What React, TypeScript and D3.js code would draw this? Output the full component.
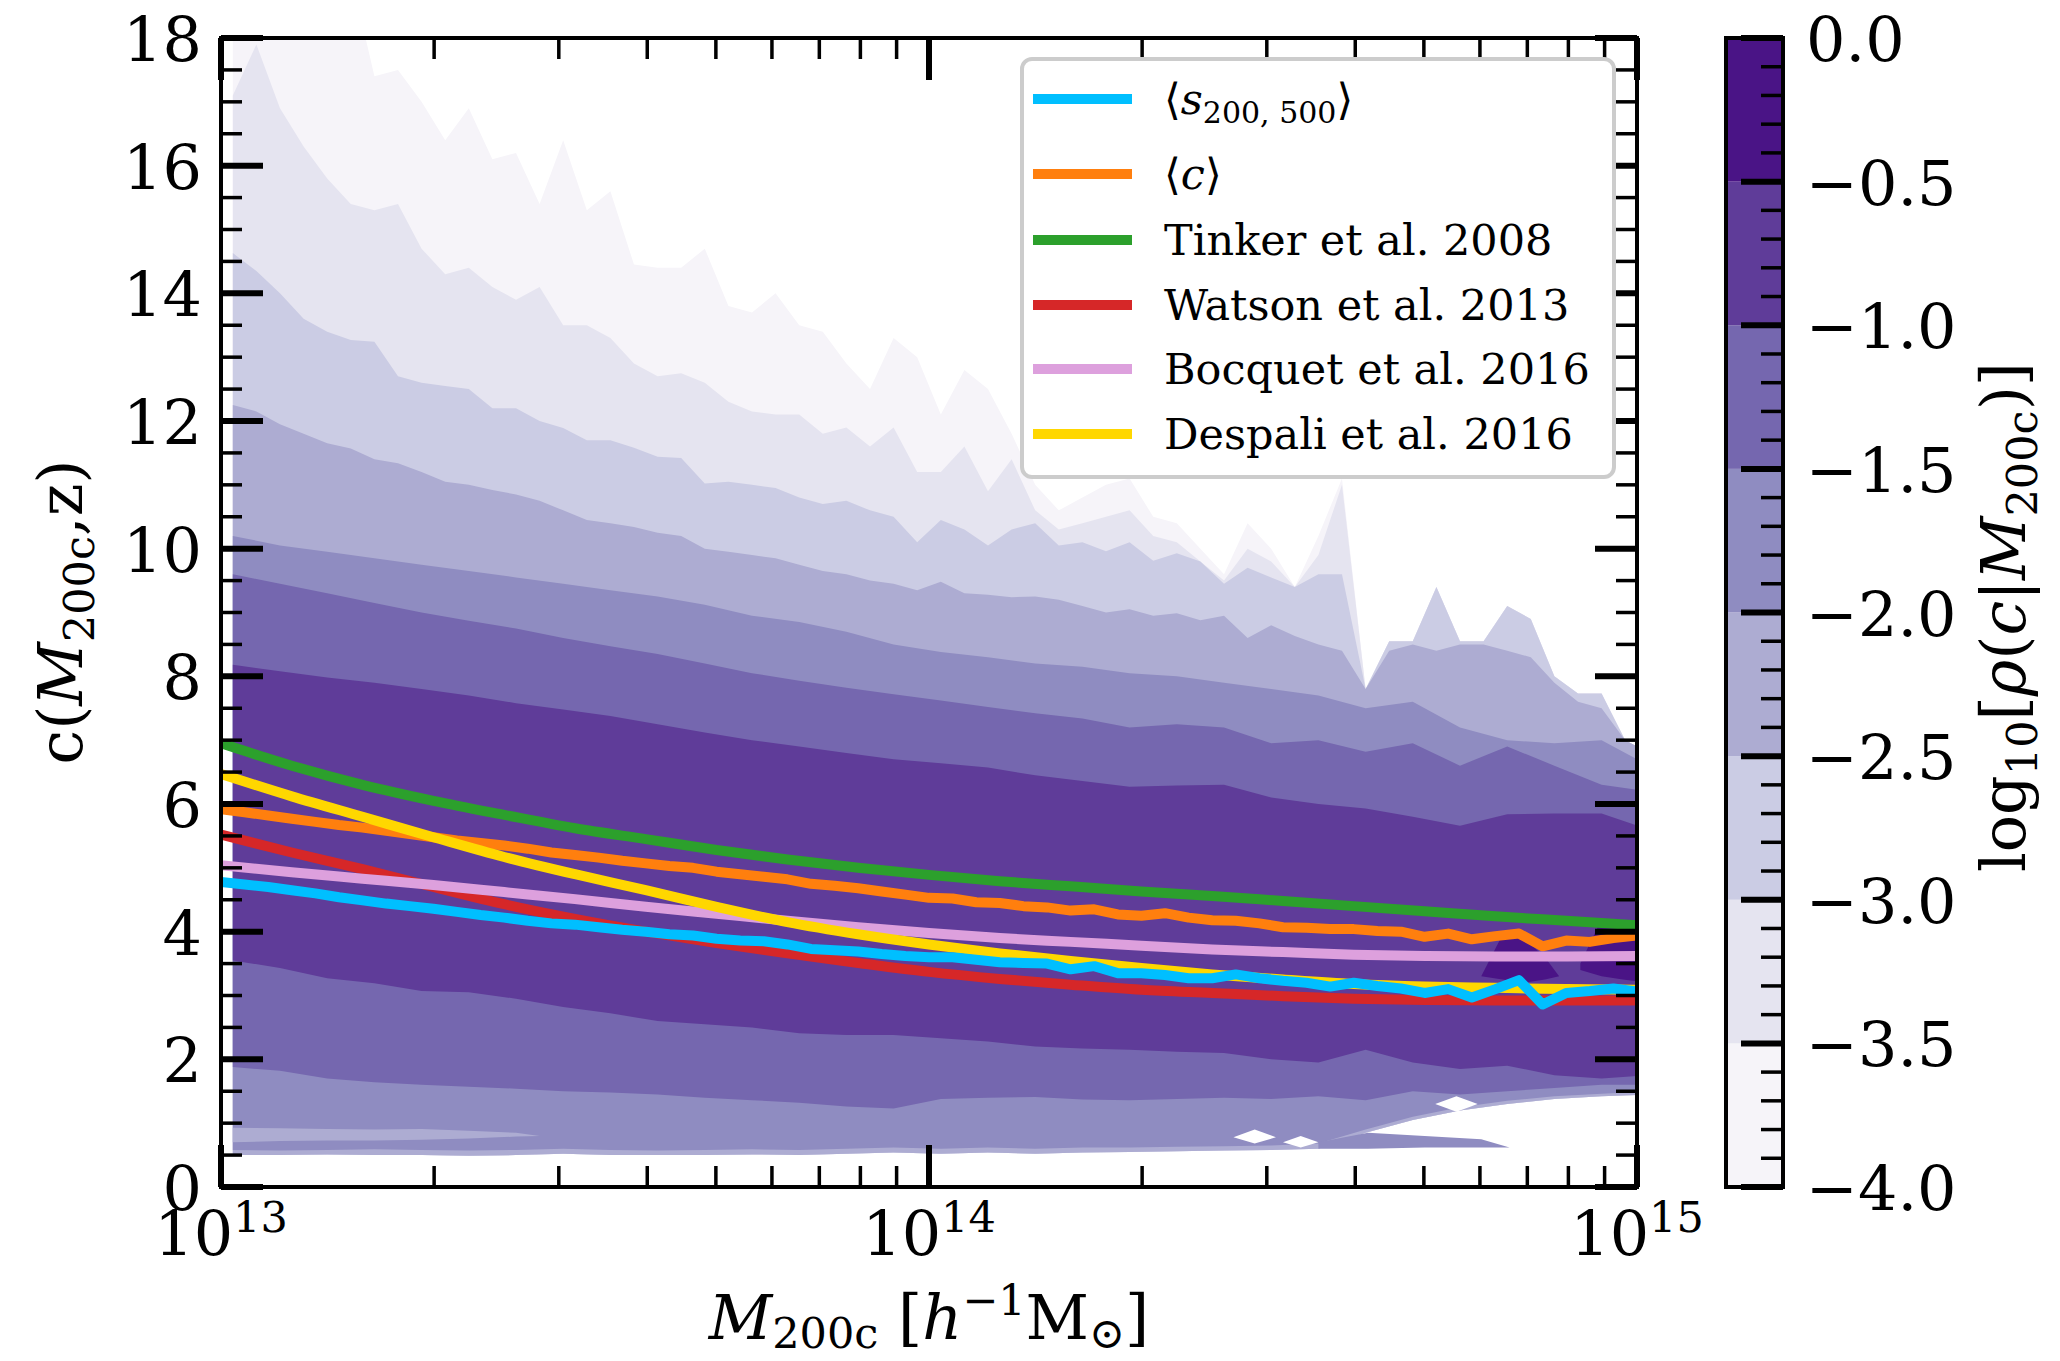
import React from "react";
import * as d3 from "d3";

const WIDTH = 2060;
const HEIGHT = 1361;
const plotBox = { left: 221, right: 1637, top: 38, bottom: 1187 };
const cbarBox = { left: 1726, right: 1783, top: 38, bottom: 1187 };
const FONT = "'DejaVu Serif', 'Liberation Serif', serif";

// log10 density levels of the filled contours
const densityLevels = [-4.0, -3.5, -3.0, -2.5, -2.0, -1.5, -1.0, -0.5, 0.0];
// ColorBrewer Purples anchors
const purplesAnchors = ["#fcfbfd", "#efedf5", "#dadaeb", "#bcbddc", "#9e9ac8", "#807dba", "#6a51a3", "#54278f", "#3f007d"];

// log10 M200c of the density bins (fine and coarse sampling)
const contourMassFine = [
  13.0167, 13.05, 13.0833, 13.1167, 13.15, 13.1833, 13.2167, 13.25, 13.2833, 13.3167,
  13.35, 13.3833, 13.4167, 13.45, 13.4833, 13.5167, 13.55, 13.5833, 13.6167, 13.65,
  13.6833, 13.7167, 13.75, 13.7833, 13.8167, 13.85, 13.8833, 13.9167, 13.95, 13.9833,
  14.0167, 14.05, 14.0833, 14.1167, 14.15, 14.1833, 14.2167, 14.25, 14.2833, 14.3167,
  14.35, 14.3833, 14.4167, 14.45, 14.4833, 14.5167, 14.55, 14.5833, 14.6167, 14.65,
  14.6833, 14.7167, 14.75, 14.7833, 14.8167, 14.85, 14.8833, 14.9167, 14.95, 14.9833,
  15.0167,
];
const contourMassCoarse = [
  13.0167, 13.0833, 13.15, 13.2167, 13.2833, 13.35, 13.4167, 13.4833, 13.55, 13.6167,
  13.6833, 13.75, 13.8167, 13.8833, 13.95, 14.0167, 14.0833, 14.15, 14.2167, 14.2833,
  14.35, 14.4167, 14.4833, 14.55, 14.6167, 14.6833, 14.75, 14.8167, 14.8833, 14.95,
  15.0167,
];

// upper edge (in c) of the region with log10 rho >= level, on the fine mass grid
const upperLevel0 = [
  19, 19, 19, 19, 19, 19, 17.4, 17.5, 17.0, 16.4, 16.9, 16.1, 16.2, 15.4, 16.4, 15.3, 15.6, 14.45, 14.4, 14.4,
  14.7, 13.8, 13.7, 14.0, 13.5, 13.4, 12.9, 12.5, 13.3, 13.0, 12.1, 12.8, 12.5, 11.8, 11.0, 10.6, 10.8, 11.0, 11.1, 10.5,
  10.4, 10.0, 9.6, 10.4, 10.0, 9.4, 10.2, 11.1, 7.8, 8.55, 8.55, 9.4, 8.55, 8.55, 9.1, 8.9, 8.0, 7.73, 7.73, 7.0,
  6.8,
];
const upperLevel1 = [
  17.1, 17.9, 16.9, 16.3, 15.8, 15.4, 15.3, 15.4, 14.7, 14.3, 14.4, 14.1, 13.9, 14.1, 13.5, 13.5, 13.3, 12.9, 12.7, 12.75,
  12.6, 12.3, 12.15, 12.1, 12.1, 11.8, 11.9, 11.6, 11.9, 11.2, 11.2, 11.6, 10.9, 11.4, 10.6, 10.3, 10.4, 10.5, 10.6, 10.2,
  10.1, 9.8, 9.5, 10.0, 9.8, 9.4, 9.9, 11.0, 7.8, 8.55, 8.55, 9.4, 8.55, 8.55, 9.1, 8.9, 8.0, 7.73, 7.73, 7.0,
  6.8,
];
const upperLevel2 = [
  14.63, 14.35, 14.0, 13.6, 13.4, 13.27, 13.24, 12.7, 12.6, 12.55, 12.5, 12.2, 12.2, 12.0, 11.89, 11.7, 11.7, 11.58, 11.44, 11.42,
  11.02, 11.05, 11.0, 10.95, 10.8, 10.7, 10.75, 10.6, 10.5, 10.1, 10.45, 10.3, 10.05, 10.3, 10.4, 10.05, 10.1, 9.96, 10.1, 9.81,
  9.93, 9.8, 9.45, 9.7, 9.55, 9.4, 9.6, 9.6, 7.8, 8.55, 8.55, 9.4, 8.55, 8.55, 9.1, 8.9, 8.0, 7.73, 7.73, 7.0,
  6.8,
];
const upperLevel3 = [
  12.25, 12.15, 11.95, 11.8, 11.65, 11.57, 11.4, 11.34, 11.2, 11.05, 11.0, 10.92, 10.85, 10.75, 10.6, 10.45, 10.4, 10.34, 10.25, 10.2,
  10.0, 9.95, 9.9, 9.85, 9.75, 9.65, 9.6, 9.5, 9.45, 9.35, 9.48, 9.3, 9.28, 9.24, 9.25, 9.2, 9.1, 9.0, 9.05, 8.95,
  8.99, 8.88, 8.95, 8.6, 8.8, 8.63, 8.5, 8.4, 7.8, 8.4, 8.5, 8.4, 8.5, 8.5, 8.4, 8.3, 7.9, 7.6, 7.5, 7.0,
  6.8,
];
// inner edges on the coarse mass grid
const upperLevel4 = [
  10.2, 10.05, 9.95, 9.85, 9.75, 9.65, 9.55, 9.45, 9.35, 9.25, 9.12, 8.95, 8.85, 8.7, 8.5, 8.38, 8.3, 8.2, 8.15, 8.05,
  8.0, 7.9, 7.8, 7.7, 7.5, 7.6, 7.2, 7.0, 6.95, 7.0, 6.6,
];
const upperLevel5 = [
  9.6, 9.45, 9.3, 9.15, 9.0, 8.87, 8.75, 8.6, 8.47, 8.35, 8.2, 8.05, 7.93, 7.82, 7.72, 7.62, 7.52, 7.42, 7.34, 7.2,
  7.25, 7.2, 6.95, 7.0, 6.82, 6.95, 6.6, 6.9, 6.6, 6.3, 6.2,
];
const upperLevel6 = [
  8.18, 8.08, 7.98, 7.9, 7.8, 7.7, 7.58, 7.48, 7.38, 7.25, 7.12, 7.0, 6.9, 6.8, 6.7, 6.64, 6.57, 6.45, 6.36, 6.27,
  6.29, 6.3, 6.1, 6.0, 5.93, 5.8, 5.66, 5.84, 5.85, 5.85, 5.6,
];
const lowerLevel6 = [
  3.55, 3.43, 3.27, 3.19, 3.07, 3.05, 2.95, 2.82, 2.72, 2.6, 2.55, 2.5, 2.41, 2.38, 2.38, 2.33, 2.28, 2.2, 2.17, 2.15,
  2.12, 2.1, 2.0, 1.95, 2.15, 1.95, 1.85, 1.9, 1.75, 1.7, 1.75,
];
const lowerLevel5 = [
  1.88, 1.82, 1.7, 1.64, 1.6, 1.57, 1.54, 1.5, 1.48, 1.45, 1.4, 1.36, 1.32, 1.26, 1.23, 1.38, 1.4, 1.41, 1.37, 1.36,
  1.38, 1.4, 1.38, 1.42, 1.36, 1.5, 1.45, 1.5, 1.55, 1.6, 1.6,
];
const lowerLevel4 = [
  0.58, 0.57, 0.58, 0.59, 0.58, 0.57, 0.58, 0.6, 0.58, 0.57, 0.58, 0.59, 0.58, 0.6, 0.62, 0.6, 0.62, 0.6, 0.62, 0.62,
  0.63, 0.64, 0.65, 0.68, 0.9, 1.1, 1.25, 1.35, 1.42, 1.46, 1.5,
];
const lowerOuter = [
  0.5, 0.5, 0.51, 0.5, 0.5, 0.49, 0.5, 0.52, 0.5, 0.5, 0.5, 0.51, 0.5, 0.52, 0.54, 0.52, 0.54, 0.52, 0.54, 0.55,
  0.56, 0.57, 0.58, 0.6, 0.85, 1.05, 1.2, 1.3, 1.38, 1.42, 1.45,
];
// low-c trough inside the -2.0 region
const troughMass = [13.0167, 13.0833, 13.15, 13.2167, 13.2833, 13.35, 13.4167, 13.45];
const troughUpper = [0.93, 0.92, 0.91, 0.9, 0.91, 0.88, 0.85, 0.8];
const troughLower = [0.7, 0.72, 0.73, 0.73, 0.74, 0.76, 0.79, 0.8];
// sparse low-c strip at the high-mass end
const stripMass = [14.55, 14.62, 14.7, 14.78, 14.82];
const stripUpper = [0.7, 0.85, 0.8, 0.75, 0.62];
const stripLower = [0.6, 0.6, 0.62, 0.62, 0.62];
// empty bins at low c
const gapMassA = [14.43, 14.46, 14.49];
const gapUpperA = [0.78, 0.9, 0.78];
const gapLowerA = [0.78, 0.68, 0.78];
const gapMassB = [14.5, 14.525, 14.55];
const gapUpperB = [0.7, 0.8, 0.7];
const gapLowerB = [0.7, 0.62, 0.7];
const gapMassC = [14.715, 14.745, 14.775];
const gapUpperC = [1.3, 1.42, 1.3];
const gapLowerC = [1.3, 1.18, 1.3];
// densest islands (log10 rho >= -0.5) at the high-mass end
const peakMassA = [14.78, 14.81, 14.84, 14.87, 14.89];
const peakUpperA = [3.3, 3.95, 3.9, 3.6, 3.3];
const peakLowerA = [3.3, 3.25, 3.2, 3.25, 3.3];
const peakMassB = [14.92, 14.95, 14.98, 15.02];
const peakUpperB = [3.5, 4.2, 4.1, 4.0];
const peakLowerB = [3.4, 3.3, 3.25, 3.2];

// binned mean relations
const binMass = [
  13.0, 13.0333, 13.0667, 13.1, 13.1333, 13.1667, 13.2, 13.2333, 13.2667, 13.3,
  13.3333, 13.3667, 13.4, 13.4333, 13.4667, 13.5, 13.5333, 13.5667, 13.6, 13.6333,
  13.6667, 13.7, 13.7333, 13.7667, 13.8, 13.8333, 13.8667, 13.9, 13.9333, 13.9667,
  14.0, 14.0333, 14.0667, 14.1, 14.1333, 14.1667, 14.2, 14.2333, 14.2667, 14.3,
  14.3333, 14.3667, 14.4, 14.4333, 14.4667, 14.5, 14.5333, 14.5667, 14.6, 14.6333,
  14.6667, 14.7, 14.7333, 14.7667, 14.8, 14.8333, 14.8667, 14.9, 14.9333, 14.9667,
  15.0,
];
const meanS200500 = [
  4.78, 4.74, 4.7, 4.65, 4.6, 4.54, 4.49, 4.44, 4.4, 4.36, 4.31, 4.26, 4.22, 4.17, 4.13, 4.11, 4.07, 4.03, 4.0, 3.96,
  3.94, 3.89, 3.86, 3.85, 3.8, 3.73, 3.71, 3.69, 3.65, 3.62, 3.6, 3.6, 3.56, 3.52, 3.51, 3.5, 3.41, 3.46, 3.35, 3.35,
  3.32, 3.27, 3.27, 3.33, 3.27, 3.23, 3.2, 3.14, 3.2, 3.15, 3.11, 3.04, 3.1, 2.97, 3.1, 3.24, 2.86, 3.04, 3.07, 3.11,
  3.06,
];
const meanConc = [
  5.92, 5.87, 5.82, 5.77, 5.72, 5.67, 5.63, 5.58, 5.53, 5.48, 5.43, 5.39, 5.35, 5.3, 5.24, 5.2, 5.16, 5.11, 5.07, 5.03,
  5.0, 4.94, 4.9, 4.86, 4.82, 4.75, 4.72, 4.68, 4.63, 4.58, 4.53, 4.52, 4.46, 4.45, 4.4, 4.38, 4.33, 4.35, 4.27, 4.25,
  4.29, 4.22, 4.18, 4.17, 4.13, 4.07, 4.06, 4.04, 4.04, 4.01, 4.0, 3.92, 3.97, 3.88, 3.93, 3.97, 3.77, 3.86, 3.84, 3.9,
  3.94,
];

// literature c-M relations
const modelMass = [13.0, 13.1, 13.2, 13.3, 13.4, 13.5, 13.6, 13.7, 13.8, 13.9, 14.0, 14.1, 14.2, 14.3, 14.4, 14.5, 14.6, 14.7, 14.8, 14.9, 15.0];
const tinker2008 = [6.95, 6.6, 6.3, 6.05, 5.83, 5.62, 5.45, 5.28, 5.13, 5.0, 4.89, 4.79, 4.71, 4.63, 4.56, 4.48, 4.4, 4.32, 4.24, 4.17, 4.1];
const watson2013 = [5.52, 5.24, 4.98, 4.7, 4.43, 4.2, 4.0, 3.82, 3.66, 3.51, 3.37, 3.26, 3.17, 3.09, 3.04, 2.99, 2.95, 2.93, 2.92, 2.92, 2.92];
const bocquet2016 = [5.04, 4.93, 4.83, 4.73, 4.62, 4.51, 4.39, 4.28, 4.17, 4.07, 3.98, 3.9, 3.84, 3.78, 3.72, 3.68, 3.64, 3.62, 3.61, 3.61, 3.62];
const despali2016 = [6.47, 6.12, 5.8, 5.48, 5.17, 4.9, 4.65, 4.39, 4.15, 3.96, 3.8, 3.66, 3.54, 3.43, 3.33, 3.25, 3.18, 3.14, 3.12, 3.1, 3.09];

const legendLabels = ["s", "c", "Tinker et al. 2008", "Watson et al. 2013", "Bocquet et al. 2016", "Despali et al. 2016"];
const seriesColors = ["#00bfff", "#ff7f0e", "#2ca02c", "#d62728", "#dda0dd", "#ffd700"];

const yTickValues = [0, 2, 4, 6, 8, 10, 12, 14, 16, 18];
const yTickLabels = ["0", "2", "4", "6", "8", "10", "12", "14", "16", "18"];
const xTickExponents = ["13", "14", "15"];
const cbarTickValues = [0.0, -0.5, -1.0, -1.5, -2.0, -2.5, -3.0, -3.5, -4.0];
const cbarTickLabels = ["0.0", "\u22120.5", "\u22121.0", "\u22121.5", "\u22122.0", "\u22122.5", "\u22123.0", "\u22123.5", "\u22124.0"];

const MAJOR_LEN = 42;
const MINOR_LEN = 21;
const MAJOR_W = 6;
const MINOR_W = 3.5;
const TICK_FS = 62;
const LEGEND_FS = 43;

export default function App() {
  const x = d3.scaleLog().domain([1e13, 1e15]).range([plotBox.left, plotBox.right]);
  const y = d3.scaleLinear().domain([0, 18]).range([plotBox.bottom, plotBox.top]);
  const cy = d3.scaleLinear().domain([-4, 0]).range([cbarBox.bottom, cbarBox.top]);
  const px = (lm: number) => x(Math.pow(10, lm));

  const purples = d3
    .scaleLinear<string>()
    .domain(purplesAnchors.map((_, i) => i / (purplesAnchors.length - 1)))
    .range(purplesAnchors)
    .interpolate(d3.interpolateRgb);
  const bandColors = densityLevels.slice(0, -1).map((lv, i) => purples(((lv + densityLevels[i + 1]) / 2 + 4) / 4));

  const ring = (topM: number[], topV: number[], botM: number[], botV: number[]) => {
    const pts: [number, number][] = [];
    topM.forEach((m, i) => pts.push([m, topV[i]]));
    for (let i = botM.length - 1; i >= 0; i--) pts.push([botM[i], botV[i]]);
    return (d3.line<[number, number]>().x((d) => px(d[0])).y((d) => y(d[1]))(pts) || "") + "Z";
  };

  const regions = [
    { d: ring(contourMassFine, upperLevel0, contourMassCoarse, lowerOuter), fill: bandColors[0] },
    { d: ring(contourMassFine, upperLevel1, contourMassCoarse, lowerOuter), fill: bandColors[1] },
    { d: ring(contourMassFine, upperLevel2, contourMassCoarse, lowerOuter), fill: bandColors[2] },
    { d: ring(contourMassFine, upperLevel3, contourMassCoarse, lowerOuter), fill: bandColors[3] },
    { d: ring(contourMassCoarse, upperLevel4, contourMassCoarse, lowerLevel4), fill: bandColors[4] },
    { d: ring(troughMass, troughUpper, troughMass, troughLower), fill: bandColors[3] },
    { d: ring(stripMass, stripUpper, stripMass, stripLower), fill: bandColors[4] },
    { d: ring(gapMassA, gapUpperA, gapMassA, gapLowerA), fill: "#ffffff" },
    { d: ring(gapMassB, gapUpperB, gapMassB, gapLowerB), fill: "#ffffff" },
    { d: ring(gapMassC, gapUpperC, gapMassC, gapLowerC), fill: "#ffffff" },
    { d: ring(contourMassCoarse, upperLevel5, contourMassCoarse, lowerLevel5), fill: bandColors[5] },
    { d: ring(contourMassCoarse, upperLevel6, contourMassCoarse, lowerLevel6), fill: bandColors[6] },
    { d: ring(peakMassA, peakUpperA, peakMassA, peakLowerA), fill: bandColors[7] },
    { d: ring(peakMassB, peakUpperB, peakMassB, peakLowerB), fill: bandColors[7] },
  ];

  const jagged = d3.line<number>().x((_, i) => px(binMass[i])).y((v) => y(v));
  const smooth = d3
    .line<number>()
    .x((_, i) => px(modelMass[i]))
    .y((v) => y(v))
    .curve(d3.curveMonotoneX);

  const curves = [
    { d: jagged(meanConc), color: seriesColors[1] },
    { d: smooth(tinker2008), color: seriesColors[2] },
    { d: smooth(watson2013), color: seriesColors[3] },
    { d: smooth(bocquet2016), color: seriesColors[4] },
    { d: smooth(despali2016), color: seriesColors[5] },
    { d: jagged(meanS200500), color: seriesColors[0] },
  ];

  const xMajor = [1e13, 1e14, 1e15];
  const xMinor = x.ticks().filter((t) => !xMajor.some((m) => Math.abs(t / m - 1) < 1e-6));
  const yMinor = d3.range(1, 36).map((i) => i * 0.5).filter((v) => v % 2 !== 0);
  const cbarMinor = d3.range(0, 41).map((i) => -4 + i * 0.1).filter((_, i) => i % 5 !== 0);

  const tickLine = (key: string, x1: number, y1: number, x2: number, y2: number, w: number) => (
    <line key={key} x1={x1} y1={y1} x2={x2} y2={y2} stroke="#000" strokeWidth={w} />
  );

  const legendRows = [99, 174, 240, 305, 369, 434];

  return (
    <svg
      width={WIDTH}
      height={HEIGHT}
      viewBox={`0 0 ${WIDTH} ${HEIGHT}`}
      style={{ position: "absolute", left: 0, top: 0, background: "#fff" }}
      fontFamily={FONT}
    >
      <defs>
        <clipPath id="plot-clip">
          <rect x={plotBox.left} y={plotBox.top} width={plotBox.right - plotBox.left} height={plotBox.bottom - plotBox.top} />
        </clipPath>
      </defs>
      <rect x={0} y={0} width={WIDTH} height={HEIGHT} fill="#fff" />

      {/* filled density contours */}
      <g clipPath="url(#plot-clip)">
        {regions.map((r, i) => (
          <path key={`r${i}`} d={r.d} fill={r.fill} stroke="none" />
        ))}
      </g>

      {/* concentration-mass relations */}
      <g clipPath="url(#plot-clip)" fill="none" strokeLinejoin="round">
        {curves.map((c, i) => (
          <path key={`c${i}`} d={c.d || ""} stroke={c.color} strokeWidth={10} />
        ))}
      </g>

      {/* ticks */}
      <g>
        {xMajor.map((t, i) => (
          <g key={`xM${i}`}>
            {tickLine(`xMb${i}`, x(t), plotBox.bottom, x(t), plotBox.bottom - MAJOR_LEN, MAJOR_W)}
            {tickLine(`xMt${i}`, x(t), plotBox.top, x(t), plotBox.top + MAJOR_LEN, MAJOR_W)}
          </g>
        ))}
        {xMinor.map((t, i) => (
          <g key={`xm${i}`}>
            {tickLine(`xmb${i}`, x(t), plotBox.bottom, x(t), plotBox.bottom - MINOR_LEN, MINOR_W)}
            {tickLine(`xmt${i}`, x(t), plotBox.top, x(t), plotBox.top + MINOR_LEN, MINOR_W)}
          </g>
        ))}
        {yTickValues.map((t, i) => (
          <g key={`yM${i}`}>
            {tickLine(`yMl${i}`, plotBox.left, y(t), plotBox.left + MAJOR_LEN, y(t), MAJOR_W)}
            {tickLine(`yMr${i}`, plotBox.right, y(t), plotBox.right - MAJOR_LEN, y(t), MAJOR_W)}
          </g>
        ))}
        {yMinor.map((t, i) => (
          <g key={`ym${i}`}>
            {tickLine(`yml${i}`, plotBox.left, y(t), plotBox.left + MINOR_LEN, y(t), MINOR_W)}
            {tickLine(`ymr${i}`, plotBox.right, y(t), plotBox.right - MINOR_LEN, y(t), MINOR_W)}
          </g>
        ))}
      </g>

      {/* axes frame */}
      <rect
        x={plotBox.left}
        y={plotBox.top}
        width={plotBox.right - plotBox.left}
        height={plotBox.bottom - plotBox.top}
        fill="none"
        stroke="#000"
        strokeWidth={4}
      />

      {/* y tick labels */}
      {yTickValues.map((t, i) => (
        <text key={`yl${i}`} x={plotBox.left - 19} y={y(t) + 23} fontSize={TICK_FS} textAnchor="end">
          {yTickLabels[i]}
        </text>
      ))}

      {/* x tick labels */}
      {xMajor.map((t, i) => (
        <text key={`xl${i}`} x={x(t)} y={1255} fontSize={TICK_FS} textAnchor="middle">
          10
          <tspan fontSize={43} dy={-23}>
            {xTickExponents[i]}
          </tspan>
        </text>
      ))}

      {/* axis labels */}
      <text x={(plotBox.left + plotBox.right) / 2} y={1339} fontSize={62} textAnchor="middle">
        <tspan fontStyle="italic">M</tspan>
        <tspan fontSize={43} dy={9}>200c</tspan>
        <tspan dy={-9}> [</tspan>
        <tspan fontStyle="italic">h</tspan>
        <tspan fontSize={43} dy={-24}>{"\u22121"}</tspan>
        <tspan dy={24}>M</tspan>
        <tspan fontSize={43} dy={9}>{"\u2299"}</tspan>
        <tspan dy={-9}>]</tspan>
      </text>
      <text transform="translate(82,612) rotate(-90)" fontSize={62} textAnchor="middle">
        c(
        <tspan fontStyle="italic">M</tspan>
        <tspan fontSize={43} dy={12}>200c</tspan>
        <tspan dy={-12}>,z)</tspan>
      </text>

      {/* legend */}
      <g>
        <rect x={1022} y={59} width={592} height={418} rx={10} ry={10} fill="#fff" stroke="#cccccc" strokeWidth={4} />
        {legendRows.map((ry, i) => (
          <line key={`lg${i}`} x1={1033} x2={1132} y1={ry} y2={ry} stroke={seriesColors[i]} strokeWidth={10} />
        ))}
        <text x={1164} y={legendRows[0] + 15} fontSize={LEGEND_FS}>
          {"\u27e8"}
          <tspan fontStyle="italic">{legendLabels[0]}</tspan>
          <tspan fontSize={30} dy={9}>200, 500</tspan>
          <tspan dy={-9}>{"\u27e9"}</tspan>
        </text>
        <text x={1164} y={legendRows[1] + 15} fontSize={LEGEND_FS}>
          {"\u27e8"}
          <tspan fontStyle="italic">{legendLabels[1]}</tspan>
          {"\u27e9"}
        </text>
        {legendLabels.slice(2).map((lab, i) => (
          <text key={`lt${i}`} x={1164} y={legendRows[i + 2] + 15} fontSize={LEGEND_FS}>
            {lab}
          </text>
        ))}
      </g>

      {/* colorbar */}
      <g>
        {bandColors.map((col, i) => (
          <rect
            key={`cb${i}`}
            x={cbarBox.left}
            y={cy(densityLevels[i + 1])}
            width={cbarBox.right - cbarBox.left}
            height={cy(densityLevels[i]) - cy(densityLevels[i + 1])}
            fill={col}
          />
        ))}
        {cbarTickValues.map((t, i) => tickLine(`cbM${i}`, cbarBox.right, cy(t), cbarBox.right - MAJOR_LEN, cy(t), MAJOR_W))}
        {cbarMinor.map((t, i) => tickLine(`cbm${i}`, cbarBox.right, cy(t), cbarBox.right - 22, cy(t), MINOR_W))}
        <rect
          x={cbarBox.left}
          y={cbarBox.top}
          width={cbarBox.right - cbarBox.left}
          height={cbarBox.bottom - cbarBox.top}
          fill="none"
          stroke="#000"
          strokeWidth={4}
        />
        {cbarTickValues.map((t, i) => (
          <text key={`cbl${i}`} x={1806} y={cy(t) + 23} fontSize={TICK_FS} textAnchor="start">
            {cbarTickLabels[i]}
          </text>
        ))}
        <text transform="translate(2025,617) rotate(-90)" fontSize={62} textAnchor="middle">
          log
          <tspan fontSize={43} dy={12}>10</tspan>
          <tspan dy={-12}>[</tspan>
          <tspan fontStyle="italic">{"\u03c1"}</tspan>
          (
          <tspan fontStyle="italic">c</tspan>
          |
          <tspan fontStyle="italic">M</tspan>
          <tspan fontSize={43} dy={12}>200c</tspan>
          <tspan dy={-12}>)]</tspan>
        </text>
      </g>
    </svg>
  );
}
